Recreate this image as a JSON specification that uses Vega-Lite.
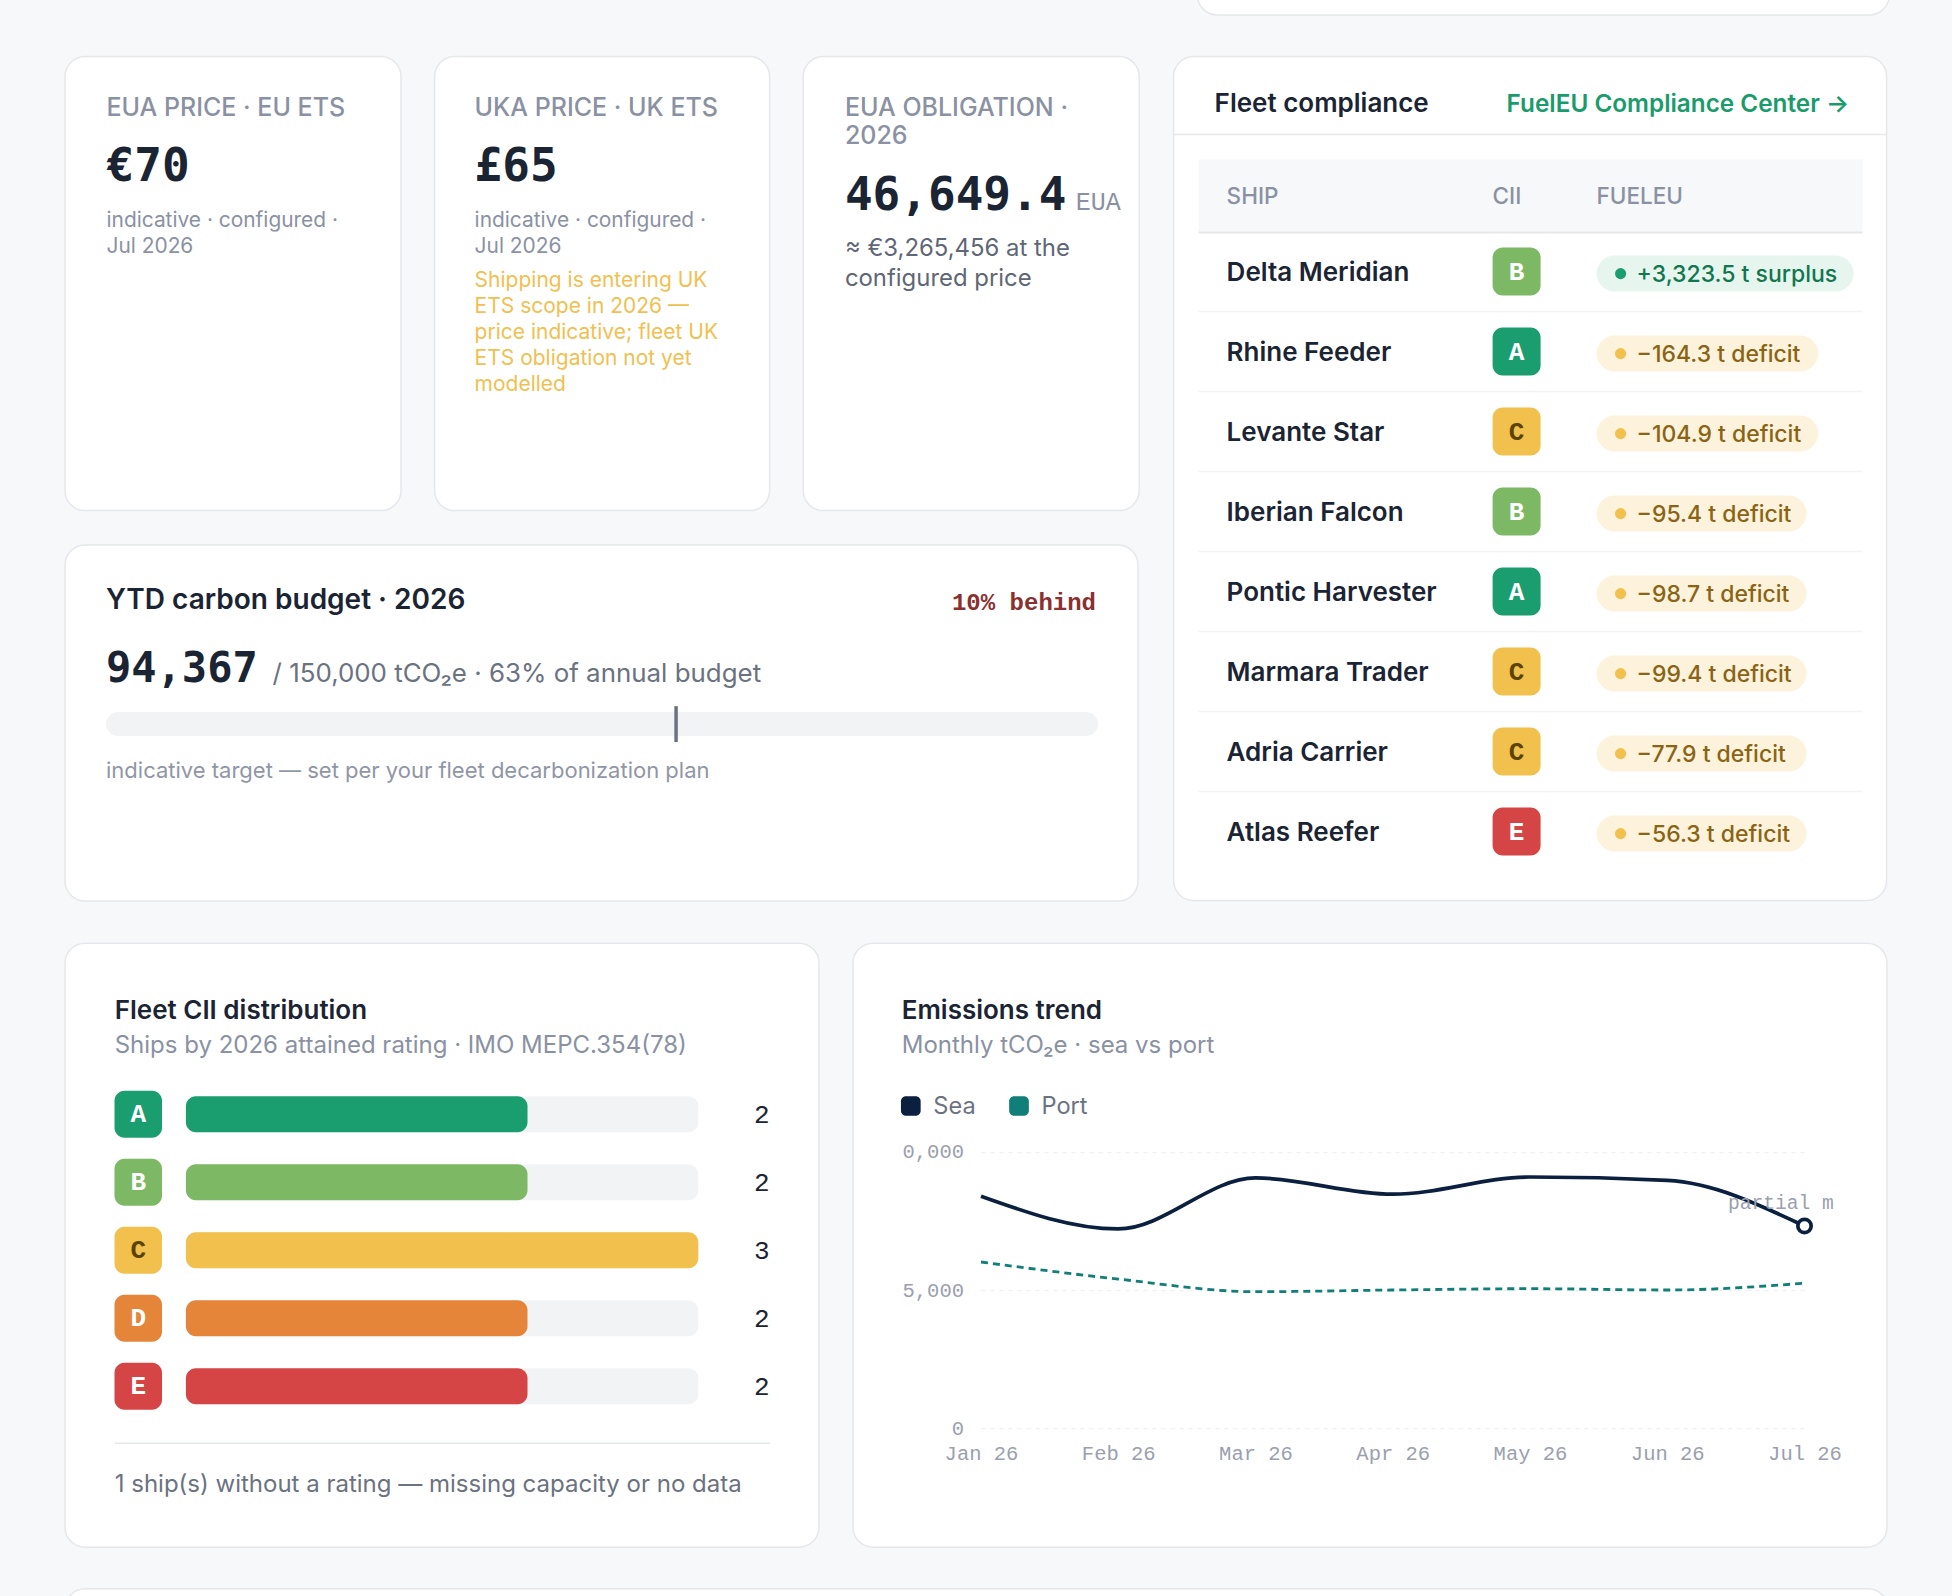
{
  "$schema": "https://vega.github.io/schema/vega-lite/v6.json",
  "background": "#f6f8fa",
  "padding": {"left": 64, "right": 67, "top": -46, "bottom": -50},
  "config": {
    "view": {"fill": "#ffffff", "stroke": "#e5e7eb", "strokeWidth": 1.5, "cornerRadius": 20},
    "style": {
      "kpi_label": {"font": "Inter", "fontSize": 25, "fontWeight": 500, "color": "#8a91a3", "align": "left", "baseline": "alphabetic"},
      "kpi_value": {"font": "DejaVu Sans Mono", "fontSize": 46, "fontWeight": 700, "color": "#1b2433", "align": "left", "baseline": "alphabetic"},
      "kpi_unit": {"font": "Liberation Mono", "fontSize": 25, "fontWeight": 500, "color": "#8a91a3", "align": "left", "baseline": "alphabetic"},
      "kpi_note": {"font": "Inter", "fontSize": 20.9, "color": "#8a91a3", "align": "left", "baseline": "alphabetic"},
      "kpi_warn": {"font": "Inter", "fontSize": 21, "color": "#f0c050", "align": "left", "baseline": "alphabetic"},
      "kpi_body": {"font": "Inter", "fontSize": 23.9, "color": "#5f6675", "align": "left", "baseline": "alphabetic"},
      "card_title": {"font": "Inter", "fontSize": 26, "fontWeight": 600, "color": "#1b2433", "align": "left", "baseline": "alphabetic"},
      "card_sub": {"font": "Inter", "fontSize": 24, "color": "#8a91a3", "align": "left", "baseline": "alphabetic"},
      "card_foot": {"font": "Inter", "fontSize": 24, "color": "#6b7280", "align": "left", "baseline": "alphabetic"},
      "budget_sub": {"font": "Inter", "fontSize": 25.9, "color": "#6b7280", "align": "left", "baseline": "alphabetic"},
      "budget_status": {"font": "Liberation Mono", "fontSize": 24, "fontWeight": 700, "color": "#8b2f2f", "align": "right", "baseline": "alphabetic", "dy": 1},
      "budget_note": {"font": "Inter", "fontSize": 22, "color": "#9096a5", "align": "left", "baseline": "alphabetic"},
      "link": {"font": "Inter", "fontSize": 24.3, "fontWeight": 600, "color": "#1a9b6c", "align": "right", "baseline": "alphabetic"},
      "th": {"font": "Inter", "fontSize": 22.5, "fontWeight": 500, "color": "#8a91a3", "align": "left", "baseline": "alphabetic"},
      "ship": {"font": "Inter", "fontSize": 26, "fontWeight": 600, "color": "#1b2433", "align": "left", "baseline": "alphabetic", "dy": 9},
      "grade": {"font": "Liberation Mono", "fontSize": 26, "fontWeight": 700, "align": "center", "baseline": "alphabetic", "dy": 8},
      "pill_text": {"font": "Inter", "fontSize": 23, "fontWeight": 500, "align": "left", "baseline": "alphabetic", "dy": 10},
      "count": {"font": "Liberation Mono", "fontSize": 26, "color": "#1b2433", "align": "right", "baseline": "alphabetic", "dy": 9},
      "legend_text": {"font": "Inter", "fontSize": 23.6, "color": "#6b7280", "align": "left", "baseline": "alphabetic", "dx": 22.5, "dy": 8}
    }
  },
  "datasets": {
    "eua_price": [
      {"line": 0, "kind": "label", "text": "EUA PRICE · EU ETS"},
      {"line": 1, "kind": "value", "text": "€70"},
      {"line": 2, "kind": "note", "text": "indicative · configured ·"},
      {"line": 3, "kind": "note", "text": "Jul 2026"}
    ],
    "uka_price": [
      {"line": 0, "kind": "label", "text": "UKA PRICE · UK ETS"},
      {"line": 1, "kind": "value", "text": "£65"},
      {"line": 2, "kind": "note", "text": "indicative · configured ·"},
      {"line": 3, "kind": "note", "text": "Jul 2026"},
      {"line": 4, "kind": "warn", "text": "Shipping is entering UK"},
      {"line": 5, "kind": "warn", "text": "ETS scope in 2026 —"},
      {"line": 6, "kind": "warn", "text": "price indicative; fleet UK"},
      {"line": 7, "kind": "warn", "text": "ETS obligation not yet"},
      {"line": 8, "kind": "warn", "text": "modelled"}
    ],
    "eua_obligation": [
      {"line": 0, "col": 0, "kind": "label", "text": "EUA OBLIGATION ·"},
      {"line": 1, "col": 0, "kind": "label", "text": "2026"},
      {"line": 2, "col": 0, "kind": "value", "text": "46,649.4"},
      {"line": 2, "col": 1, "kind": "unit", "text": "EUA"},
      {"line": 3, "col": 0, "kind": "body", "text": "≈ €3,265,456 at the"},
      {"line": 4, "col": 0, "kind": "body", "text": "configured price"}
    ],
    "budget_text": [
      {"line": 0, "col": 0, "kind": "title", "text": "YTD carbon budget · 2026"},
      {"line": 0, "col": 2, "kind": "status", "text": "10% behind"},
      {"line": 1, "col": 0, "kind": "value", "text": "94,367"},
      {"line": 1, "col": 1, "kind": "sub", "text": "/ 150,000 tCO₂e · 63% of annual budget"},
      {"line": 2, "col": 0, "kind": "note", "text": "indicative target — set per your fleet decarbonization plan"}
    ],
    "budget": [{"row": "track", "budget": 150000, "target": 86200}],
    "compliance_text": [
      {"row": -4, "col": 0, "kind": "title", "text": "Fleet compliance"},
      {"row": -4, "col": 4, "kind": "link", "text": "FuelEU Compliance Center →"},
      {"row": -1, "col": 1, "kind": "th", "text": "SHIP"},
      {"row": -1, "col": 2, "kind": "th", "text": "CII"},
      {"row": -1, "col": 3, "kind": "th", "text": "FUELEU"}
    ],
    "ships": [
      {"row": 1, "ship": "Delta Meridian", "cii": "B", "fuel": "+3,323.5 t surplus", "status": "surplus", "chars": 18},
      {"row": 2, "ship": "Rhine Feeder", "cii": "A", "fuel": "−164.3 t deficit", "status": "deficit", "chars": 16},
      {"row": 3, "ship": "Levante Star", "cii": "C", "fuel": "−104.9 t deficit", "status": "deficit", "chars": 16},
      {"row": 4, "ship": "Iberian Falcon", "cii": "B", "fuel": "−95.4 t deficit", "status": "deficit", "chars": 15},
      {"row": 5, "ship": "Pontic Harvester", "cii": "A", "fuel": "−98.7 t deficit", "status": "deficit", "chars": 15},
      {"row": 6, "ship": "Marmara Trader", "cii": "C", "fuel": "−99.4 t deficit", "status": "deficit", "chars": 15},
      {"row": 7, "ship": "Adria Carrier", "cii": "C", "fuel": "−77.9 t deficit", "status": "deficit", "chars": 15},
      {"row": 8, "ship": "Atlas Reefer", "cii": "E", "fuel": "−56.3 t deficit", "status": "deficit", "chars": 15}
    ],
    "row_gaps": [
      {"row": 0, "from": 0, "to": 1, "kind": "head"},
      {"row": 1.5, "from": 0, "to": 1, "kind": "gap"},
      {"row": 2.5, "from": 0, "to": 1, "kind": "gap"},
      {"row": 3.5, "from": 0, "to": 1, "kind": "gap"},
      {"row": 4.5, "from": 0, "to": 1, "kind": "gap"},
      {"row": 5.5, "from": 0, "to": 1, "kind": "gap"},
      {"row": 6.5, "from": 0, "to": 1, "kind": "gap"},
      {"row": 7.5, "from": 0, "to": 1, "kind": "gap"}
    ],
    "cii_text": [
      {"line": 0, "kind": "title", "text": "Fleet CII distribution"},
      {"line": 1, "kind": "sub", "text": "Ships by 2026 attained rating · IMO MEPC.354(78)"},
      {"line": 3, "kind": "foot", "text": "1 ship(s) without a rating — missing capacity or no data"}
    ],
    "cii_counts": [
      {"rating": "A", "count": 2, "fleet_max": 3},
      {"rating": "B", "count": 2, "fleet_max": 3},
      {"rating": "C", "count": 3, "fleet_max": 3},
      {"rating": "D", "count": 2, "fleet_max": 3},
      {"rating": "E", "count": 2, "fleet_max": 3}
    ],
    "trend_text": [
      {"line": 0, "kind": "title", "text": "Emissions trend"},
      {"line": 1, "kind": "sub", "text": "Monthly tCO₂e · sea vs port"}
    ],
    "trend": [
      {"month": "Jan 26", "mode": "Sea", "t": 8396},
      {"month": "Feb 26", "mode": "Sea", "t": 7212},
      {"month": "Mar 26", "mode": "Sea", "t": 9058},
      {"month": "Apr 26", "mode": "Sea", "t": 8468},
      {"month": "May 26", "mode": "Sea", "t": 9091},
      {"month": "Jun 26", "mode": "Sea", "t": 8968},
      {"month": "Jul 26", "mode": "Sea", "t": 7317, "note": "partial month"},
      {"month": "Jan 26", "mode": "Port", "t": 6014},
      {"month": "Feb 26", "mode": "Port", "t": 5395},
      {"month": "Mar 26", "mode": "Port", "t": 4938},
      {"month": "Apr 26", "mode": "Port", "t": 5000},
      {"month": "May 26", "mode": "Port", "t": 5047},
      {"month": "Jun 26", "mode": "Port", "t": 5000},
      {"month": "Jul 26", "mode": "Port", "t": 5246}
    ]
  },
  "spacing": 39.6,
  "resolve": {"scale": {"color": "independent"}},
  "vconcat": [
    {
      "spacing": 31.3,
      "hconcat": [
        {
          "width": 1100, "height": 60, "view": {"fill": null, "stroke": null},
          "data": {"values": [{"card": "spacer"}]},
          "mark": {"type": "text"},
          "encoding": {
            "x": {"datum": 0.5, "type": "quantitative", "axis": null, "scale": {"domain": [0, 1]}},
            "y": {"datum": 0.5, "type": "quantitative", "axis": null, "scale": {"domain": [0, 1]}},
            "text": {"value": ""}
          }
        },
        {
          "width": 692, "height": 60,
          "data": {"values": [{"card": "cut off above"}]},
          "mark": {"type": "text"},
          "encoding": {
            "x": {"datum": 0.5, "type": "quantitative", "axis": null, "scale": {"domain": [0, 1]}},
            "y": {"datum": 0.5, "type": "quantitative", "axis": null, "scale": {"domain": [0, 1]}},
            "text": {"value": ""}
          }
        }
      ]
    },
    {
      "spacing": 31.6,
      "resolve": {"scale": {"color": "independent"}},
      "hconcat": [
        {
          "spacing": 32.5,
          "vconcat": [
            {
              "spacing": 31.6,
              "hconcat": [
                {
                  "width": 336,
                  "height": 454,
                  "data": {"name": "eua_price"},
                  "encoding": {
                    "x": {"datum": 0, "type": "quantitative", "axis": null, "scale": {"domain": [0, 1], "range": [41.5, 300]}},
                    "y": {"field": "line", "type": "quantitative", "axis": null, "scale": {"domain": [0, 1, 2, 3, 4, 8], "range": [59, 124.7, 170.7, 196.3, 230.3, 334.3]}},
                    "text": {"field": "text"}
                  },
                  "layer": [
                    {"transform": [{"filter": "datum.kind == 'label'"}], "mark": {"type": "text", "style": "kpi_label"}},
                    {"transform": [{"filter": "datum.kind == 'value'"}], "mark": {"type": "text", "style": "kpi_value"}},
                    {"transform": [{"filter": "datum.kind == 'note'"}], "mark": {"type": "text", "style": "kpi_note"}}
                  ]
                },
                {
                  "width": 335,
                  "height": 454,
                  "data": {"name": "uka_price"},
                  "encoding": {
                    "x": {"datum": 0, "type": "quantitative", "axis": null, "scale": {"domain": [0, 1], "range": [40, 300]}},
                    "y": {"field": "line", "type": "quantitative", "axis": null, "scale": {"domain": [0, 1, 2, 3, 4, 8], "range": [59, 124.7, 170.7, 196.3, 230.3, 334.3]}},
                    "text": {"field": "text"}
                  },
                  "layer": [
                    {"transform": [{"filter": "datum.kind == 'label'"}], "mark": {"type": "text", "style": "kpi_label"}},
                    {"transform": [{"filter": "datum.kind == 'value'"}], "mark": {"type": "text", "style": "kpi_value"}},
                    {"transform": [{"filter": "datum.kind == 'note'"}], "mark": {"type": "text", "style": "kpi_note"}},
                    {"transform": [{"filter": "datum.kind == 'warn'"}], "mark": {"type": "text", "style": "kpi_warn"}}
                  ]
                },
                {
                  "width": 336,
                  "height": 454,
                  "data": {"name": "eua_obligation"},
                  "encoding": {
                    "x": {"field": "col", "type": "quantitative", "axis": null, "scale": {"domain": [0, 1], "range": [41.7, 272.5]}},
                    "y": {"field": "line", "type": "quantitative", "axis": null, "scale": {"domain": [0, 1, 2, 3, 4], "range": [59, 87, 153, 199, 229]}},
                    "text": {"field": "text"}
                  },
                  "layer": [
                    {"transform": [{"filter": "datum.kind == 'label'"}], "mark": {"type": "text", "style": "kpi_label"}},
                    {"transform": [{"filter": "datum.kind == 'value'"}], "mark": {"type": "text", "style": "kpi_value"}},
                    {"transform": [{"filter": "datum.kind == 'unit'"}], "mark": {"type": "text", "style": "kpi_unit"}},
                    {"transform": [{"filter": "datum.kind == 'body'"}], "mark": {"type": "text", "style": "kpi_body"}}
                  ]
                }
              ]
            },
            {
              "width": 1073,
              "height": 356,
              "resolve": {"scale": {"x": "independent", "y": "independent"}},
              "layer": [
                {
                  "data": {"name": "budget"},
                  "mark": {"type": "bar", "height": 24, "cornerRadius": 12, "color": "#f1f3f5"},
                  "encoding": {
                    "x": {"field": "budget", "type": "quantitative", "axis": null, "stack": null, "scale": {"domain": [0, 150000], "range": [41, 1033]}},
                    "y": {"field": "row", "type": "nominal", "axis": null, "scale": {"type": "point", "padding": 0, "domain": ["track", "rest"], "range": [179, 300]}}
                  }
                },
                {
                  "data": {"name": "budget"},
                  "mark": {"type": "tick", "orient": "vertical", "size": 36, "thickness": 3.5, "color": "#6b7280", "opacity": 1},
                  "encoding": {
                    "x": {"field": "target", "type": "quantitative", "axis": null, "scale": {"domain": [0, 150000], "range": [41, 1033]}},
                    "y": {"field": "row", "type": "nominal", "axis": null, "scale": {"type": "point", "padding": 0, "domain": ["track", "rest"], "range": [179, 300]}}
                  }
                },
                {
                  "data": {"name": "budget_text"},
                  "transform": [{"filter": "datum.kind == 'title'"}],
                  "mark": {"type": "text", "style": "card_title", "fontSize": 28},
                  "encoding": {
                    "x": {"field": "col", "type": "quantitative", "axis": null, "scale": {"domain": [0, 1, 2], "range": [41, 207.6, 1031]}},
                    "y": {"field": "line", "type": "quantitative", "axis": null, "scale": {"domain": [0, 1, 2], "range": [64, 136.7, 233]}},
                    "text": {"field": "text"}
                  }
                },
                {
                  "data": {"name": "budget_text"},
                  "transform": [{"filter": "datum.kind == 'status'"}],
                  "mark": {"type": "text", "style": "budget_status"},
                  "encoding": {
                    "x": {"field": "col", "type": "quantitative", "axis": null, "scale": {"domain": [0, 1, 2], "range": [41, 207.6, 1031]}},
                    "y": {"field": "line", "type": "quantitative", "axis": null, "scale": {"domain": [0, 1, 2], "range": [64, 136.7, 233]}},
                    "text": {"field": "text"}
                  }
                },
                {
                  "data": {"name": "budget_text"},
                  "transform": [{"filter": "datum.kind == 'value'"}],
                  "mark": {"type": "text", "style": "kpi_value", "fontSize": 42},
                  "encoding": {
                    "x": {"field": "col", "type": "quantitative", "axis": null, "scale": {"domain": [0, 1, 2], "range": [41, 207.6, 1031]}},
                    "y": {"field": "line", "type": "quantitative", "axis": null, "scale": {"domain": [0, 1, 2], "range": [64, 136.7, 233]}},
                    "text": {"field": "text"}
                  }
                },
                {
                  "data": {"name": "budget_text"},
                  "transform": [{"filter": "datum.kind == 'sub'"}],
                  "mark": {"type": "text", "style": "budget_sub"},
                  "encoding": {
                    "x": {"field": "col", "type": "quantitative", "axis": null, "scale": {"domain": [0, 1, 2], "range": [41, 207.6, 1031]}},
                    "y": {"field": "line", "type": "quantitative", "axis": null, "scale": {"domain": [0, 1, 2], "range": [64, 136.7, 233]}},
                    "text": {"field": "text"}
                  }
                },
                {
                  "data": {"name": "budget_text"},
                  "transform": [{"filter": "datum.kind == 'note'"}],
                  "mark": {"type": "text", "style": "budget_note"},
                  "encoding": {
                    "x": {"field": "col", "type": "quantitative", "axis": null, "scale": {"domain": [0, 1, 2], "range": [41, 207.6, 1031]}},
                    "y": {"field": "line", "type": "quantitative", "axis": null, "scale": {"domain": [0, 1, 2], "range": [64, 136.7, 233]}},
                    "text": {"field": "text"}
                  }
                }
              ]
            }
          ]
        },
        {
          "width": 713,
          "height": 844,
          "resolve": {"scale": {"x": "independent", "y": "independent", "color": "independent"}},
          "encoding": {
            "y": {"field": "row", "type": "quantitative", "axis": null, "scale": {"domain": [-4, -3, -1, 0, 1, 8], "range": [55, 78, 147, 176, 215, 775]}}
          },
          "layer": [
            {
              "data": {"values": [{"row": "band", "extent": 1}]},
              "mark": {"type": "bar", "height": 73, "color": "#f6f8fa"},
              "encoding": {
                "x": {"field": "extent", "type": "quantitative", "axis": null, "stack": null, "scale": {"domain": [0, 1], "range": [25, 689]}},
                "y": {"field": "row", "type": "nominal", "axis": null, "scale": {"type": "point", "padding": 0, "domain": ["band", "rest"], "range": [139.5, 600]}}
              }
            },
            {
              "data": {"values": [{"row": -3, "from": 0, "to": 1}]},
              "mark": {"type": "rule", "color": "#e5e7eb", "strokeWidth": 1.5},
              "encoding": {
                "x": {"field": "from", "type": "quantitative", "axis": null, "scale": {"domain": [0, 1], "range": [0, 713]}},
                "x2": {"field": "to"}
              }
            },
            {
              "data": {"name": "row_gaps"},
              "transform": [{"filter": "datum.kind == 'head'"}],
              "mark": {"type": "rule", "color": "#e5e7eb", "strokeWidth": 2},
              "encoding": {
                "x": {"field": "from", "type": "quantitative", "axis": null, "scale": {"domain": [0, 1], "range": [25, 689]}},
                "x2": {"field": "to"}
              }
            },
            {
              "data": {"name": "row_gaps"},
              "transform": [{"filter": "datum.kind == 'gap'"}],
              "mark": {"type": "rule", "color": "#f1f3f5", "strokeWidth": 1.5},
              "encoding": {
                "x": {"field": "from", "type": "quantitative", "axis": null, "scale": {"domain": [0, 1], "range": [25, 689]}},
                "x2": {"field": "to"}
              }
            },
            {
              "data": {"name": "ships"},
              "mark": {"type": "bar", "height": 36, "cornerRadius": 18, "yOffset": 2},
              "encoding": {
                "x": {"field": "chars", "type": "quantitative", "axis": null, "stack": null, "scale": {"domain": [0, 15, 16, 18], "range": [423, 633, 644.6, 680]}},
                "y": {"field": "ship", "type": "nominal", "axis": null, "scale": {"type": "point", "padding": 0, "domain": ["Delta Meridian", "Rhine Feeder", "Levante Star", "Iberian Falcon", "Pontic Harvester", "Marmara Trader", "Adria Carrier", "Atlas Reefer"], "range": [215, 775]}},
                "color": {"field": "status", "type": "nominal", "legend": null, "scale": {"domain": ["surplus", "deficit"], "range": ["#e7f5ef", "#fdf3dc"]}}
              }
            },
            {
              "data": {"name": "compliance_text"},
              "transform": [{"filter": "datum.kind == 'title'"}],
              "mark": {"type": "text", "style": "card_title"},
              "encoding": {
                "x": {"field": "col", "type": "quantitative", "axis": null, "scale": {"domain": [0, 1, 2, 3, 4], "range": [41, 53, 319, 423, 675.5]}},
                "text": {"field": "text"}
              }
            },
            {
              "data": {"name": "compliance_text"},
              "transform": [{"filter": "datum.kind == 'link'"}],
              "mark": {"type": "text", "style": "link"},
              "encoding": {
                "x": {"field": "col", "type": "quantitative", "axis": null, "scale": {"domain": [0, 1, 2, 3, 4], "range": [41, 53, 319, 423, 675.5]}},
                "text": {"field": "text"}
              }
            },
            {
              "data": {"name": "compliance_text"},
              "transform": [{"filter": "datum.kind == 'th'"}],
              "mark": {"type": "text", "style": "th"},
              "encoding": {
                "x": {"field": "col", "type": "quantitative", "axis": null, "scale": {"domain": [0, 1, 2, 3, 4], "range": [41, 53, 319, 423, 675.5]}},
                "text": {"field": "text"}
              }
            },
            {
              "data": {"name": "ships"},
              "mark": {"type": "text", "style": "ship"},
              "encoding": {
                "x": {"datum": 0, "type": "quantitative", "axis": null, "scale": {"domain": [0, 1], "range": [53, 300]}},
                "text": {"field": "ship"}
              }
            },
            {
              "data": {"name": "ships"},
              "mark": {"type": "rect", "width": 48, "height": 48, "cornerRadius": 10},
              "encoding": {
                "x": {"field": "cii", "type": "nominal", "axis": null, "scale": {"type": "point", "padding": 0, "domain": ["A", "B", "C", "D", "E"], "range": [343, 343]}},
                "y": {"field": "ship", "type": "nominal", "axis": null, "scale": {"type": "point", "padding": 0, "domain": ["Delta Meridian", "Rhine Feeder", "Levante Star", "Iberian Falcon", "Pontic Harvester", "Marmara Trader", "Adria Carrier", "Atlas Reefer"], "range": [215, 775]}},
                "color": {"field": "cii", "type": "nominal", "legend": null, "scale": {"domain": ["A", "B", "C", "D", "E"], "range": ["#1b9e6f", "#7db864", "#f2c04c", "#e58539", "#d64545"]}}
              }
            },
            {
              "data": {"name": "ships"},
              "mark": {"type": "text", "style": "grade"},
              "encoding": {
                "x": {"datum": 0, "type": "quantitative", "axis": null, "scale": {"domain": [0, 1], "range": [343, 400]}},
                "text": {"field": "cii"},
                "color": {"condition": {"test": "datum.cii == 'C'", "value": "#5b4300"}, "value": "#ffffff"}
              }
            },
            {
              "data": {"name": "ships"},
              "mark": {"type": "point", "filled": true, "size": 125, "opacity": 1, "yOffset": 2},
              "encoding": {
                "x": {"datum": 0, "type": "quantitative", "axis": null, "scale": {"domain": [0, 1], "range": [447, 500]}},
                "color": {"condition": {"test": "datum.status == 'surplus'", "value": "#1b9e6f"}, "value": "#f2c04c"}
              }
            },
            {
              "data": {"name": "ships"},
              "mark": {"type": "text", "style": "pill_text"},
              "encoding": {
                "x": {"datum": 0, "type": "quantitative", "axis": null, "scale": {"domain": [0, 1], "range": [463, 500]}},
                "text": {"field": "fuel"},
                "color": {"condition": {"test": "datum.status == 'surplus'", "value": "#11774f"}, "value": "#8a6414"}
              }
            }
          ]
        }
      ]
    },
    {
      "spacing": 32,
      "resolve": {"scale": {"color": "independent"}},
      "hconcat": [
        {
          "width": 754,
          "height": 604,
          "resolve": {"scale": {"x": "independent", "y": "independent"}},
          "layer": [
            {
              "data": {"name": "cii_text"},
              "transform": [{"filter": "datum.kind == 'title'"}],
              "mark": {"type": "text", "style": "card_title"},
              "encoding": {
                "x": {"datum": 0, "type": "quantitative", "axis": null, "scale": {"domain": [0, 1], "range": [49.7, 705]}},
                "y": {"field": "line", "type": "quantitative", "axis": null, "scale": {"domain": [0, 1, 2, 3], "range": [75.7, 110, 500, 549]}},
                "text": {"field": "text"}
              }
            },
            {
              "data": {"name": "cii_text"},
              "transform": [{"filter": "datum.kind == 'sub'"}],
              "mark": {"type": "text", "style": "card_sub"},
              "encoding": {
                "x": {"datum": 0, "type": "quantitative", "axis": null, "scale": {"domain": [0, 1], "range": [49.7, 705]}},
                "y": {"field": "line", "type": "quantitative", "axis": null, "scale": {"domain": [0, 1, 2, 3], "range": [75.7, 110, 500, 549]}},
                "text": {"field": "text"}
              }
            },
            {
              "data": {"name": "cii_text"},
              "transform": [{"filter": "datum.kind == 'foot'"}],
              "mark": {"type": "text", "style": "card_foot"},
              "encoding": {
                "x": {"datum": 0, "type": "quantitative", "axis": null, "scale": {"domain": [0, 1], "range": [49.7, 705]}},
                "y": {"field": "line", "type": "quantitative", "axis": null, "scale": {"domain": [0, 1, 2, 3], "range": [75.7, 110, 500, 549]}},
                "text": {"field": "text"}
              }
            },
            {
              "data": {"values": [{"line": 2, "from": 0, "to": 1}]},
              "mark": {"type": "rule", "color": "#e5e7eb", "strokeWidth": 1.5},
              "encoding": {
                "x": {"field": "from", "type": "quantitative", "axis": null, "scale": {"domain": [0, 1], "range": [49.7, 705]}},
                "x2": {"field": "to"},
                "y": {"field": "line", "type": "quantitative", "axis": null, "scale": {"domain": [0, 1, 2, 3], "range": [75.7, 110, 500, 549]}}
              }
            },
            {
              "data": {"name": "cii_counts"},
              "mark": {"type": "bar", "height": 36, "cornerRadius": 10, "color": "#f1f3f5"},
              "encoding": {
                "x": {"field": "fleet_max", "type": "quantitative", "axis": null, "stack": null, "scale": {"domain": [0, 3], "range": [120.9, 633.3]}},
                "y": {"field": "rating", "type": "nominal", "axis": null, "scale": {"type": "point", "padding": 0, "domain": ["A", "B", "C", "D", "E"], "range": [171, 443]}}
              }
            },
            {
              "data": {"name": "cii_counts"},
              "mark": {"type": "bar", "height": 36, "cornerRadius": 10},
              "encoding": {
                "x": {"field": "count", "type": "quantitative", "axis": null, "stack": null, "scale": {"domain": [0, 3], "range": [120.9, 633.3]}},
                "y": {"field": "rating", "type": "nominal", "axis": null, "scale": {"type": "point", "padding": 0, "domain": ["A", "B", "C", "D", "E"], "range": [171, 443]}},
                "color": {"field": "rating", "type": "nominal", "legend": null, "scale": {"domain": ["A", "B", "C", "D", "E"], "range": ["#1b9e6f", "#7db864", "#f2c04c", "#e58539", "#d64545"]}}
              }
            },
            {
              "data": {"name": "cii_counts"},
              "mark": {"type": "rect", "width": 47.5, "height": 47, "cornerRadius": 10},
              "encoding": {
                "x": {"field": "rating", "type": "nominal", "axis": null, "scale": {"type": "point", "padding": 0, "domain": ["A", "B", "C", "D", "E"], "range": [73.25, 73.25]}},
                "y": {"field": "rating", "type": "nominal", "axis": null, "scale": {"type": "point", "padding": 0, "domain": ["A", "B", "C", "D", "E"], "range": [171, 443]}},
                "color": {"field": "rating", "type": "nominal", "legend": null, "scale": {"domain": ["A", "B", "C", "D", "E"], "range": ["#1b9e6f", "#7db864", "#f2c04c", "#e58539", "#d64545"]}}
              }
            },
            {
              "data": {"name": "cii_counts"},
              "mark": {"type": "text", "style": "grade"},
              "encoding": {
                "x": {"field": "rating", "type": "nominal", "axis": null, "scale": {"type": "point", "padding": 0, "domain": ["A", "B", "C", "D", "E"], "range": [73.25, 73.25]}},
                "y": {"field": "rating", "type": "nominal", "axis": null, "scale": {"type": "point", "padding": 0, "domain": ["A", "B", "C", "D", "E"], "range": [171, 443]}},
                "text": {"field": "rating"},
                "color": {"condition": {"test": "datum.rating == 'C'", "value": "#5b4300"}, "value": "#ffffff"}
              }
            },
            {
              "data": {"name": "cii_counts"},
              "mark": {"type": "text", "style": "count"},
              "encoding": {
                "x": {"datum": 0, "type": "quantitative", "axis": null, "scale": {"domain": [0, 1], "range": [704.5, 750]}},
                "y": {"field": "rating", "type": "nominal", "axis": null, "scale": {"type": "point", "padding": 0, "domain": ["A", "B", "C", "D", "E"], "range": [171, 443]}},
                "text": {"field": "count"}
              }
            }
          ]
        },
        {
          "width": 1034,
          "height": 604,
          "resolve": {"scale": {"x": "independent", "y": "independent", "color": "independent"}},
          "layer": [
            {
              "data": {"name": "trend_text"},
              "transform": [{"filter": "datum.kind == 'title'"}],
              "mark": {"type": "text", "style": "card_title"},
              "encoding": {
                "x": {"datum": 0, "type": "quantitative", "axis": null, "scale": {"domain": [0, 1], "range": [48.7, 900]}},
                "y": {"field": "line", "type": "quantitative", "axis": null, "scale": {"domain": [0, 1], "range": [75.7, 110]}},
                "text": {"field": "text"}
              }
            },
            {
              "data": {"name": "trend_text"},
              "transform": [{"filter": "datum.kind == 'sub'"}],
              "mark": {"type": "text", "style": "card_sub"},
              "encoding": {
                "x": {"datum": 0, "type": "quantitative", "axis": null, "scale": {"domain": [0, 1], "range": [48.7, 900]}},
                "y": {"field": "line", "type": "quantitative", "axis": null, "scale": {"domain": [0, 1], "range": [75.7, 110]}},
                "text": {"field": "text"}
              }
            },
            {
              "data": {"values": [{"mode": "Sea", "row": "legend"}, {"mode": "Port", "row": "legend"}]},
              "mark": {"type": "rect", "width": 19.7, "height": 19.7, "cornerRadius": 5},
              "encoding": {
                "x": {"field": "mode", "type": "nominal", "axis": null, "scale": {"type": "point", "padding": 0, "domain": ["Sea", "Port"], "range": [57.8, 166]}},
                "y": {"field": "row", "type": "nominal", "axis": null, "scale": {"type": "point", "padding": 0, "domain": ["legend", "plot"], "range": [162.8, 200]}},
                "color": {"field": "mode", "type": "nominal", "legend": null, "scale": {"domain": ["Sea", "Port"], "range": ["#0b1f3f", "#0f7f77"]}}
              }
            },
            {
              "data": {"values": [{"mode": "Sea", "row": "legend"}, {"mode": "Port", "row": "legend"}]},
              "mark": {"type": "text", "style": "legend_text"},
              "encoding": {
                "x": {"field": "mode", "type": "nominal", "axis": null, "scale": {"type": "point", "padding": 0, "domain": ["Sea", "Port"], "range": [57.8, 166]}},
                "y": {"field": "row", "type": "nominal", "axis": null, "scale": {"type": "point", "padding": 0, "domain": ["legend", "plot"], "range": [162.8, 200]}},
                "text": {"field": "mode"}
              }
            },
            {
              "data": {"name": "trend"},
              "transform": [{"filter": "datum.mode == 'Sea'"}],
              "mark": {"type": "line", "interpolate": "monotone", "strokeWidth": 3.7, "color": "#0b1f3f"},
              "encoding": {
                "x": {
                  "field": "month",
                  "type": "nominal",
                  "title": null,
                  "scale": {"type": "point", "padding": 0, "domain": ["Jan 26", "Feb 26", "Mar 26", "Apr 26", "May 26", "Jun 26", "Jul 26"], "range": [128, 951.5]},
                  "axis": {"labelAngle": 0, "domain": false, "ticks": false, "grid": false, "labelPadding": 0, "offset": -104, "labelFont": "Liberation Mono", "labelFontSize": 20.5, "labelColor": "#9aa0ae"}
                },
                "y": {
                  "field": "t",
                  "type": "quantitative",
                  "title": null,
                  "scale": {"domain": [0, 10000], "range": [484.9, 208.7]},
                  "axis": {
                    "values": [0, 5000, 10000],
                    "labelExpr": "datum.value == 10000 ? '0,000' : format(datum.value, ',')",
                    "grid": true,
                    "gridColor": "#eef0f2",
                    "gridDash": [4, 5],
                    "gridWidth": 1.25,
                    "domain": false,
                    "ticks": false,
                    "labelPadding": 0,
                    "offset": -110.5,
                    "labelFont": "Liberation Mono",
                    "labelFontSize": 20.5,
                    "labelColor": "#9aa0ae"
                  }
                }
              }
            },
            {
              "data": {"name": "trend"},
              "transform": [{"filter": "datum.mode == 'Port'"}],
              "mark": {"type": "line", "interpolate": "monotone", "strokeWidth": 2.8, "strokeDash": [7, 5], "color": "#0f7f77"},
              "encoding": {
                "x": {"field": "month", "type": "nominal", "axis": null, "scale": {"type": "point", "padding": 0, "domain": ["Jan 26", "Feb 26", "Mar 26", "Apr 26", "May 26", "Jun 26", "Jul 26"], "range": [128, 951.5]}},
                "y": {"field": "t", "type": "quantitative", "axis": null, "scale": {"domain": [0, 10000], "range": [484.9, 208.7]}}
              }
            },
            {
              "data": {"name": "trend"},
              "transform": [{"filter": "datum.note"}],
              "mark": {"type": "point", "filled": false, "fill": "#ffffff", "size": 177, "strokeWidth": 3.7, "opacity": 1, "color": "#0b1f3f"},
              "encoding": {
                "x": {"field": "month", "type": "nominal", "axis": null, "scale": {"type": "point", "padding": 0, "domain": ["Jan 26", "Feb 26", "Mar 26", "Apr 26", "May 26", "Jun 26", "Jul 26"], "range": [128, 951.5]}},
                "y": {"field": "t", "type": "quantitative", "axis": null, "scale": {"domain": [0, 10000], "range": [484.9, 208.7]}}
              }
            },
            {
              "data": {"name": "trend"},
              "transform": [{"filter": "datum.note"}],
              "mark": {"type": "text", "font": "Liberation Mono", "fontSize": 19.6, "align": "left", "baseline": "alphabetic", "dx": -76.5, "dy": -17, "limit": 118, "ellipsis": " ", "color": "#9aa0ae"},
              "encoding": {
                "x": {"field": "month", "type": "nominal", "axis": null, "scale": {"type": "point", "padding": 0, "domain": ["Jan 26", "Feb 26", "Mar 26", "Apr 26", "May 26", "Jun 26", "Jul 26"], "range": [128, 951.5]}},
                "y": {"field": "t", "type": "quantitative", "axis": null, "scale": {"domain": [0, 10000], "range": [484.9, 208.7]}},
                "text": {"field": "note"}
              }
            }
          ]
        }
      ]
    },
    {
      "width": 1823, "height": 60,
      "data": {"values": [{"card": "cut off below"}]},
      "mark": {"type": "text"},
      "encoding": {
        "x": {"datum": 0.5, "type": "quantitative", "axis": null, "scale": {"domain": [0, 1]}},
        "y": {"datum": 0.5, "type": "quantitative", "axis": null, "scale": {"domain": [0, 1]}},
        "text": {"value": ""}
      }
    }
  ]
}
